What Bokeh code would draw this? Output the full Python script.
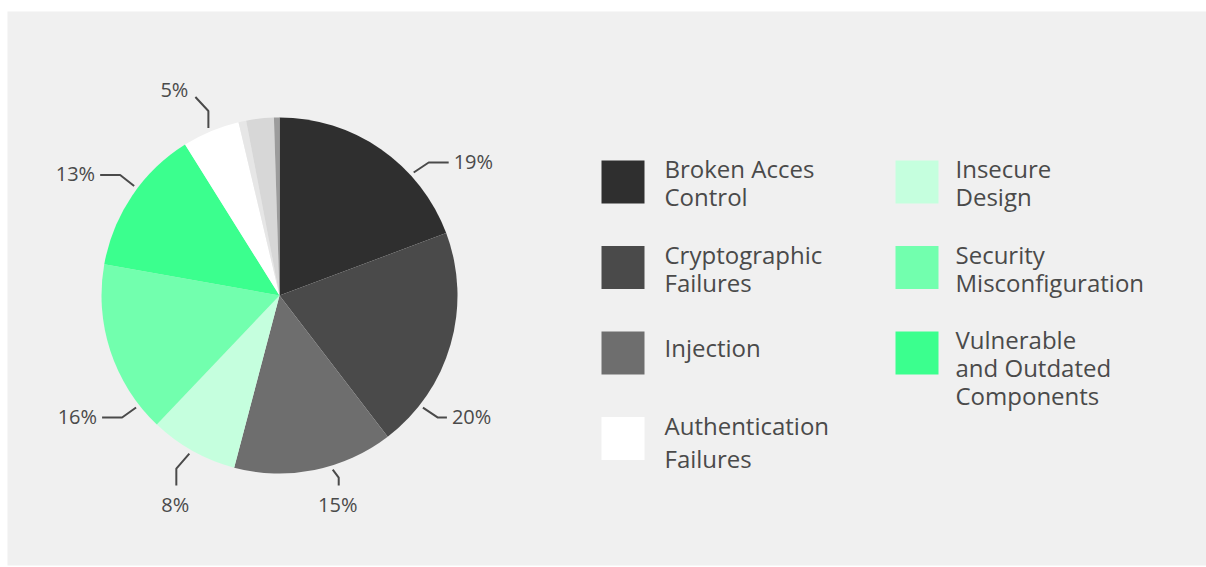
import math
from bokeh.plotting import figure
from bokeh.models import Range1d
from bokeh.core.properties import value
from bokeh.embed import file_html
from bokeh.resources import INLINE

# ---------------- data ----------------
categories = ["Broken Acces Control", "Cryptographic Failures", "Injection",
              "Insecure Design", "Security Misconfiguration",
              "Vulnerable and Outdated Components", "Authentication Failures",
              "Other 1", "Other 2", "Other 3"]
shares = [19.3, 20.3, 14.5, 8.0, 15.7, 13.3, 5.2, 0.7, 2.5, 0.5]
pct_labels = ["19%", "20%", "15%", "8%", "16%", "13%", "5%"]
slice_colors = ["#2f2f2f", "#4a4a4a", "#6e6e6e", "#c5ffde", "#72ffae",
                "#3bff8e", "#ffffff", "#e6e6e6", "#d7d7d7", "#9c9c9c"]

legend_order = [0, 1, 2, 6, 3, 4, 5]          # column 1 then column 2
legend_lines = {
    0: ["Broken Acces", "Control"],
    1: ["Cryptographic", "Failures"],
    2: ["Injection"],
    6: ["Authentication", "Failures"],
    3: ["Insecure", "Design"],
    4: ["Security", "Misconfiguration"],
    5: ["Vulnerable", "and Outdated", "Components"],
}

# ---------------- layout (screen px) ----------------
W, H = 1206, 567
PL, PT, PB = 7, 11, 2          # white strips around grey panel
def Y(sy):                     # screen y -> data y
    return H - sy

CX, CY, R = 279, 295, 178
FONT = value("Open Sans")
TXT = "#4a4a4a"
LEAD = "#4a4a4a"

# label leader geometry: angle (deg clockwise from top), elbow offset, tail offset, text mode
label_angle = [47.5, 128, 163, 209.7, 232, 307, 337]
elbow_off = [(15, -10), (15, 10), (6, 8), (-13, 15), (-14, 10), (-14, -11), (0, -17)]
tail_off = [(20, 0), (9, 0), (0, 8), (0, 17), (-20, 0), (-20, 0), (-13, -14)]
text_mode = ["left", "left", "below", "below", "right", "right", "upleft"]

p = figure(width=W, height=H, output_backend="svg", toolbar_location=None,
           x_range=Range1d(PL, W), y_range=Range1d(PB, Y(PT)),
           min_border_left=PL, min_border_right=0, min_border_top=PT,
           min_border_bottom=PB)
p.axis.visible = False
p.grid.visible = False
p.outline_line_color = None
p.background_fill_color = "#f0f0f0"
p.border_fill_color = "#ffffff"

# ---------------- pie ----------------
total = sum(shares)
starts, ends = [], []
c = 0.0
for s in shares:
    f0 = c / total
    c += s
    f1 = c / total
    starts.append(math.pi / 2 - 2 * math.pi * f0)
    ends.append(math.pi / 2 - 2 * math.pi * f1)

p.wedge(x=[CX] * len(shares), y=[Y(CY)] * len(shares), radius=R,
        start_angle=starts, end_angle=ends, direction="clock",
        fill_color=slice_colors, line_color=None)

# ---------------- percentage labels ----------------
xs, ys = [], []
groups = {"left": ([], [], []), "right": ([], [], []), "below": ([], [], [])}
for i, lab in enumerate(pct_labels):
    a = math.radians(label_angle[i])
    sx0 = CX + (R + 4) * math.sin(a)
    sy0 = CY - (R + 4) * math.cos(a)
    sx1, sy1 = sx0 + elbow_off[i][0], sy0 + elbow_off[i][1]
    sx2, sy2 = sx1 + tail_off[i][0], sy1 + tail_off[i][1]
    xs.append([sx0, sx1, sx2])
    ys.append([Y(sy0), Y(sy1), Y(sy2)])
    m = text_mode[i]
    if m == "left":
        g = groups["left"]; g[0].append(sx2 + 5); g[1].append(Y(sy2 - 1)); g[2].append(lab)
    elif m == "right":
        g = groups["right"]; g[0].append(sx2 - 5); g[1].append(Y(sy2 - 1)); g[2].append(lab)
    elif m == "upleft":
        g = groups["right"]; g[0].append(sx2 - 7); g[1].append(Y(sy2 - 7)); g[2].append(lab)
    else:
        g = groups["below"]; g[0].append(sx2 - 1); g[1].append(Y(sy2 + 5)); g[2].append(lab)

p.multi_line(xs=xs, ys=ys, line_color=LEAD, line_width=2)

for key, (gx, gy, gt) in groups.items():
    align = {"left": "left", "right": "right", "below": "center"}[key]
    base = "top" if key == "below" else "middle"
    p.text(x=gx, y=gy, text=gt, text_font=FONT, text_font_size="20px",
           text_color=TXT, text_align=align, text_baseline=base)

# ---------------- legend ----------------
col_x = [601, 895]
col_text_x = [664, 955]
row_top0, row_step, sq = 160, 85.5, 43
line_gap = {0: 28, 1: 28, 2: 28, 6: 33, 3: 28, 4: 28, 5: 28}
rx, ry, rc = [], [], []
tx, ty, tt = [], [], []
for k, idx in enumerate(legend_order):
    col = 0 if k < 4 else 1
    row = k if k < 4 else k - 4
    left = col_x[col]
    top = row_top0 + row * row_step
    rx.append(left + sq / 2)
    ry.append(Y(top + sq / 2))
    rc.append(slice_colors[idx])
    lines = legend_lines[idx]
    first = top + 8 if len(lines) > 1 else top + sq / 2 - 6
    for j, ln in enumerate(lines):
        tx.append(col_text_x[col])
        ty.append(Y(first + j * line_gap[idx]))
        tt.append(ln)

p.rect(x=rx, y=ry, width=sq, height=sq, fill_color=rc, line_color=None)
p.text(x=tx, y=ty, text=tt, text_font=FONT, text_font_size="24px",
       text_color=TXT, text_align="left", text_baseline="middle")

open("out.html", "w").write(file_html(p, INLINE))
